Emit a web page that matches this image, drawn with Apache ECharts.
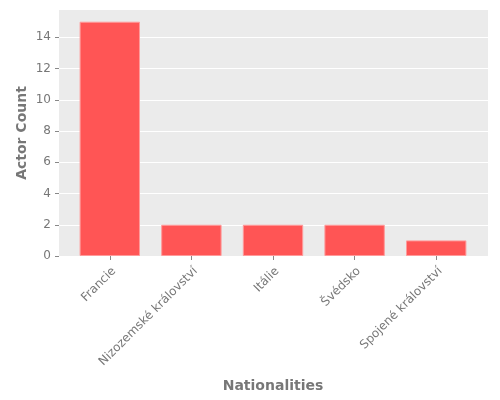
<!DOCTYPE HTML>
<html>
	<head>
		<meta http-equiv="Content-type" content="text/html; charset=UTF-8" />
		<script type="text/javascript" src="https://cdn.jsdelivr.net/npm/echarts@6/dist/echarts.min.js"></script>
		<style>
			html, body { margin: 0; padding: 0; background: #fff; }
		</style>
	</head>
	<body>
		<div id="div_1" style="width: 500px;height:400px;"></div>
		<script type="text/javascript">
			var nationalities = ['Francie', 'Nizozemské království', 'Itálie', 'Švédsko', 'Spojené království'];
			var actorCounts = [15, 2, 2, 2, 1];
			var yMax = 15.75;
			var font = 'DejaVu Sans';

			var option = {
				animation: false,
				textStyle: { fontFamily: font },
				grid: [
					// grey panel with horizontal grid lines
					{ left: 59, top: 10, width: 429, height: 246, show: true, backgroundColor: '#ebebeb', borderWidth: 0 },
					// inner grid holding the category bands
					{ left: 69, top: 10, width: 408, height: 246 }
				],
				xAxis: [
					{ gridIndex: 0, type: 'value', show: false, min: 0, max: 1 },
					{
						gridIndex: 1,
						type: 'category',
						data: nationalities,
						name: 'Nationalities',
						nameLocation: 'middle',
						nameGap: 123,
						nameMoveOverlap: false,
						nameTextStyle: { color: '#777', fontSize: 14, fontWeight: 'bold', fontFamily: font },
						axisLine: { show: false },
						axisTick: { show: true, alignWithLabel: true, length: 4, lineStyle: { color: '#888' } },
						axisLabel: { rotate: 45, color: '#777', fontSize: 12, margin: 9, verticalAlign: 'top', fontFamily: font, interval: 0 }
					}
				],
				yAxis: [
					{
						gridIndex: 0,
						type: 'value',
						min: 0,
						max: yMax,
						interval: 2,
						name: 'Actor Count',
						nameLocation: 'middle',
						nameGap: 30,
						nameMoveOverlap: false,
						nameTextStyle: { color: '#777', fontSize: 14, fontWeight: 'bold', fontFamily: font },
						axisLine: { show: false },
						axisTick: { show: true, length: 4, lineStyle: { color: '#888' } },
						axisLabel: { color: '#777', fontSize: 12, margin: 8, showMaxLabel: false, fontFamily: font },
						splitLine: { show: true, showMaxLine: false, lineStyle: { color: '#fff', width: 1 } }
					},
					{ gridIndex: 1, type: 'value', show: false, min: 0, max: yMax }
				],
				series: [{
					type: 'bar',
					xAxisIndex: 1,
					yAxisIndex: 1,
					data: actorCounts,
					barWidth: '74%',
					itemStyle: { color: '#ff5555', borderColor: '#ff9a9a', borderWidth: 1 }
				}]
			};
			var myChart = echarts.init(document.getElementById("div_1"));
			myChart.setOption(option);
		</script>
	</body>
</html>
